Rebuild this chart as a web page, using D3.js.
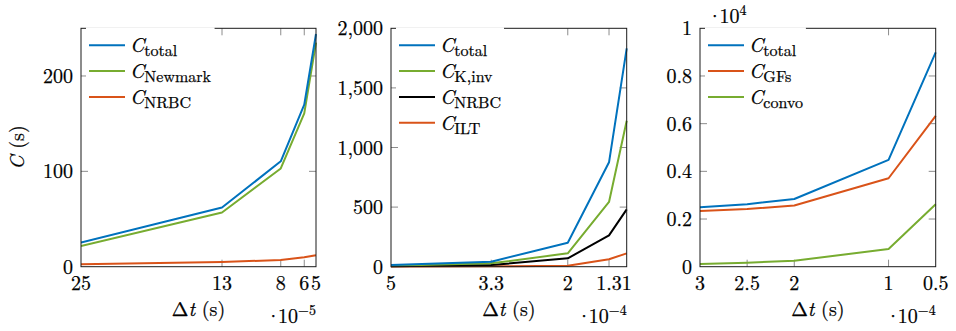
<!DOCTYPE html>
<html><head><meta charset="utf-8">
<script src="https://cdn.jsdelivr.net/npm/d3@7"></script>
<style>body{margin:0;background:#fff;}</style>
</head>
<body><svg id="c" width="956" height="331"></svg>
<script>
// ---- data (time step mantissas and costs in seconds) ----
const dt1 = [25, 13, 8, 6, 5];            // x 10^-5 s
const p1Total   = [25.3, 62, 110.5, 170, 244];
const p1Newmark = [21.8, 56.8, 103, 160.7, 235];
const p1NRBC    = [2.5, 5, 7, 10, 12];
const p1Ticks = [0, 100, 200];

const dt2 = [5, 3.3, 2, 1.3, 1];          // x 10^-4 s
const p2Total = [14, 42, 201, 876, 1832];
const p2Kinv  = [8, 28, 112, 543, 1225];
const p2NRBC  = [3, 14, 70, 263, 481];
const p2ILT   = [1, 3, 8, 62, 112];
const p2Ticks = [0, 500, 1000, 1500, 2000];

const dt3 = [3, 2.5, 2, 1, 0.5];          // x 10^-4 s
const p3Total = [2490, 2620, 2840, 4480, 8990];
const p3GFs   = [2340, 2420, 2570, 3710, 6330];
const p3Convo = [110, 170, 250, 740, 2620];
const p3Ticks = [0, 2000, 4000, 6000, 8000, 10000];

const BLUE = "#0072BD", GREEN = "#77AC30", RED = "#D95319", BLACK = "#000000";
const FONT = "'Latin Modern Roman', 'Liberation Serif', serif";

const panels = [
  {left:81, right:316, xdom:[25,5], ydom:[0,250], xvals:dt1, xticks:dt1, yticks:p1Ticks,
   yfmt:d=>String(d), xexp:"−5", yexp:null, ylabel:true,
   series:[{name:"total",vals:p1Total,color:BLUE},{name:"Newmark",vals:p1Newmark,color:GREEN},{name:"NRBC",vals:p1NRBC,color:RED}]},
  {left:391, right:626.7, xdom:[5,1], ydom:[0,2000], xvals:dt2, xticks:dt2, yticks:p2Ticks,
   yfmt:d3.format(","), xexp:"−4", yexp:null, ylabel:false,
   series:[{name:"total",vals:p2Total,color:BLUE},{name:"K,inv",vals:p2Kinv,color:GREEN},{name:"NRBC",vals:p2NRBC,color:BLACK},{name:"ILT",vals:p2ILT,color:RED}]},
  {left:700, right:935.7, xdom:[3,0.5], ydom:[0,10000], xvals:dt3, xticks:dt3, yticks:p3Ticks,
   yfmt:d=>String(+(d/1e4).toFixed(1)), xexp:"−4", yexp:"4", ylabel:false,
   series:[{name:"total",vals:p3Total,color:BLUE},{name:"GFs",vals:p3GFs,color:RED},{name:"convo",vals:p3Convo,color:GREEN}]}
];

const TOP = 28.3, BOTTOM = 266.7, TICK = 7, FS = 20, SFS = 16, EFS = 14;
const svg = d3.select("#c");

function txt(sel){
  return sel.append("text").style("font-family", FONT).attr("fill","#000")
    .attr("stroke","#000").attr("stroke-width",0.25);
}
function power(t, exp){
  t.append("tspan").style("letter-spacing","-3px").text("·");
  t.append("tspan").text("10");
  t.append("tspan").attr("dy",-8).attr("font-size",EFS).text(exp);
}

panels.forEach(p => {
  const x = d3.scaleLinear().domain(p.xdom).range([p.left, p.right]);
  const y = d3.scaleLinear().domain(p.ydom).range([BOTTOM, TOP]);
  const g = svg.append("g");

  // ticks (inside, mirrored)
  const tg = g.append("g").attr("stroke","#8c8c8c").attr("stroke-width",1);
  p.xticks.forEach(t => {
    const xx = x(t);
    if (Math.abs(xx-p.left)<0.5 || Math.abs(xx-p.right)<0.5) return;
    tg.append("line").attr("x1",xx).attr("x2",xx).attr("y1",BOTTOM).attr("y2",BOTTOM-TICK);
    tg.append("line").attr("x1",xx).attr("x2",xx).attr("y1",TOP).attr("y2",TOP+TICK);
  });
  p.yticks.forEach(t => {
    const yy = y(t);
    if (Math.abs(yy-BOTTOM)<0.5 || Math.abs(yy-TOP)<0.5) return;
    tg.append("line").attr("x1",p.left).attr("x2",p.left+TICK).attr("y1",yy).attr("y2",yy);
    tg.append("line").attr("x1",p.right).attr("x2",p.right-TICK).attr("y1",yy).attr("y2",yy);
  });

  // series lines
  const line = d3.line().x((d,i)=>x(p.xvals[i])).y(d=>y(d));
  const clipId = "clip"+p.left;
  svg.append("clipPath").attr("id",clipId).append("rect")
    .attr("x",p.left).attr("y",TOP-2).attr("width",p.right-p.left+2).attr("height",BOTTOM-TOP+4);
  p.series.slice().reverse().forEach(s => {
    g.append("path").datum(s.vals).attr("d",line).attr("fill","none")
      .attr("stroke",s.color).attr("stroke-width",2).attr("stroke-linejoin","round")
      .attr("clip-path",`url(#${clipId})`);
  });

  // axis box
  g.append("rect").attr("x",p.left).attr("y",TOP).attr("width",p.right-p.left).attr("height",BOTTOM-TOP)
    .attr("fill","none").attr("stroke","#1a1a1a").attr("stroke-width",1);

  // tick labels
  p.xticks.forEach(t => {
    txt(g).attr("x",x(t)).attr("y",BOTTOM+23).attr("text-anchor","middle")
      .attr("font-size",FS).text(String(t));
  });
  p.yticks.forEach(t => {
    txt(g).attr("x",p.left-8).attr("y",y(t)+7).attr("text-anchor","end")
      .attr("font-size",FS).text(p.yfmt(t));
  });

  // x label
  const xl = txt(g).attr("x",(p.left+p.right)/2).attr("y",316).attr("text-anchor","middle").attr("font-size",FS);
  xl.append("tspan").text("Δ");
  xl.append("tspan").style("font-style","italic").text("t");
  xl.append("tspan").text(" (s)");

  // x exponent
  const xe = txt(g).attr("x",p.right).attr("y",323).attr("text-anchor","end").attr("font-size",FS);
  power(xe, p.xexp);

  if (p.yexp) {
    const ye = txt(g).attr("x",p.left+7).attr("y",23).attr("font-size",FS);
    power(ye, p.yexp);
  }

  if (p.ylabel) {
    const yl = txt(g).attr("transform",`translate(24,${(TOP+BOTTOM)/2}) rotate(-90)`)
      .attr("text-anchor","middle").attr("font-size",FS);
    yl.append("tspan").style("font-style","italic").text("C");
    yl.append("tspan").text(" (s)");
  }

  // legend
  const lg = g.append("g");
  const bg = lg.append("rect").attr("fill","#fff");
  const lx0 = p.left + 8, lx1 = p.left + 44, tx = p.left + 49;
  p.series.forEach((s,i) => {
    const yy = 45.3 + i*25.8;
    lg.append("line").attr("x1",lx0).attr("x2",lx1).attr("y1",yy).attr("y2",yy)
      .attr("stroke",s.color).attr("stroke-width",2);
    const t = txt(lg).attr("x",tx).attr("y",yy+7).attr("font-size",FS);
    t.append("tspan").style("font-style","italic").text("C");
    t.append("tspan").attr("dy",4).attr("font-size",SFS).text(s.name);
  });
  const bb = lg.node().getBBox();
  bg.attr("x",bb.x-3).attr("y",bb.y-2).attr("width",bb.width+6).attr("height",bb.height+3);
});
</script></body></html>
